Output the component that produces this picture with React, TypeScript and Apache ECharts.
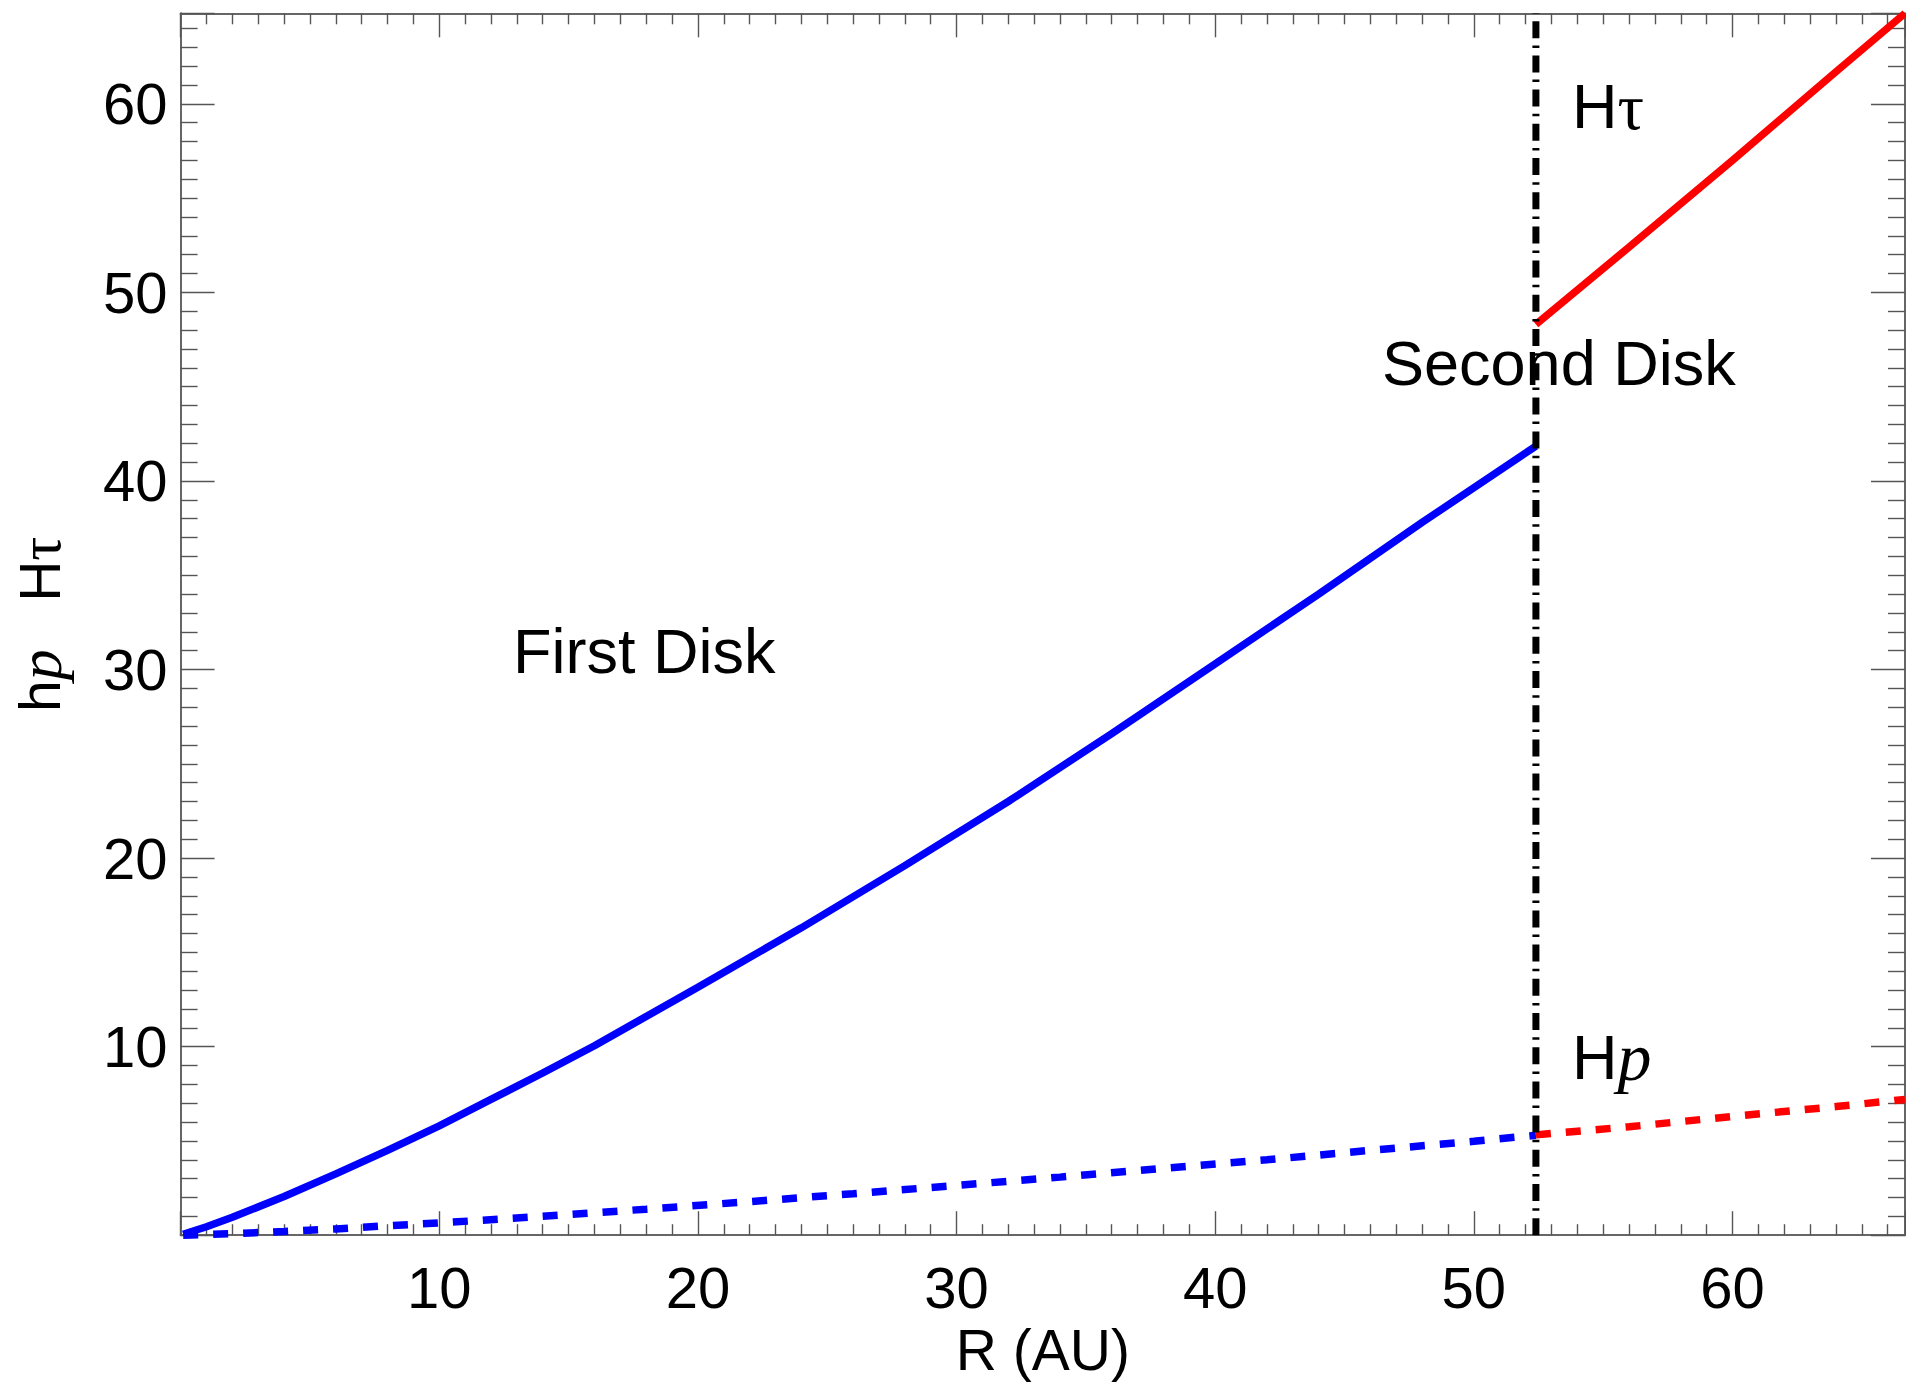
import React, { useEffect, useRef } from "react";
import * as echarts from "echarts";

// ---- data ----
const rTauFirst = [0.1, 1, 2, 4, 6, 8, 10, 12, 14, 16, 18, 20, 24, 28, 32, 36, 40, 44, 48, 52.4];
const hTauFirst = [0.05, 0.45, 0.95, 2.05, 3.25, 4.5, 5.8, 7.2, 8.6, 10.05, 11.6, 13.15, 16.3, 19.6, 23.0, 26.6, 30.3, 34.0, 37.8, 41.85];

const rPFirst = [0.1, 2, 4, 6, 8, 10, 14, 18, 22, 26, 30, 34, 38, 42, 46, 50, 52.4];
const hPFirst = [0.0, 0.08, 0.2, 0.33, 0.5, 0.65, 1.0, 1.38, 1.78, 2.2, 2.64, 3.08, 3.54, 4.0, 4.5, 4.98, 5.3];

const rTauSecond = [52.4, 56, 60, 64, 66.67];
const hTauSecond = [48.3, 52.4, 57.0, 61.7, 64.8];

const rPSecond = [52.4, 56, 60, 64, 66.67];
const hPSecond = [5.32, 5.75, 6.3, 6.82, 7.2];

const rBoundary = 52.4;
const xMin = 0;
const xMax = 66.67;
const yMin = 0;
const yMax = 64.8;
const tickInterval = 10;

const pairs = (xs: number[], ys: number[]) => xs.map((x, i) => [x, ys[i]]);

const SANS = "Liberation Sans, Arial, Helvetica, sans-serif";
const SERIF = "Liberation Serif, Times New Roman, serif";

export default function App() {
  const ref = useRef<HTMLDivElement>(null);

  useEffect(() => {
    if (!ref.current) return;
    const chart = echarts.init(ref.current, undefined, { renderer: "svg" });

    const axisLine = { show: true, onZero: false, lineStyle: { color: "#666", width: 2 } };
    const tickStyle = { color: "#555", width: 1.4 };

    const xCommon = {
      type: "value" as const,
      min: xMin,
      max: xMax,
      interval: tickInterval,
      axisLine,
      splitLine: { show: false },
      minorSplitLine: { show: false },
      axisTick: { show: true, inside: true, length: 24, lineStyle: tickStyle },
      minorTick: { show: true, splitNumber: 10, length: 11, lineStyle: tickStyle },
    };
    const yCommon = {
      type: "value" as const,
      min: yMin,
      max: yMax,
      interval: tickInterval,
      axisLine,
      splitLine: { show: false },
      minorSplitLine: { show: false },
      axisTick: { show: true, inside: true, length: 34, lineStyle: tickStyle },
      minorTick: { show: true, splitNumber: 10, length: 17, lineStyle: tickStyle },
    };

    const labelFont = { fontFamily: SANS, fontSize: 58, lineHeight: 58, color: "#000" };

    const lineSeries = (name: string, xs: number[], ys: number[], color: string, type: any) => ({
      type: "line",
      name,
      data: pairs(xs, ys),
      symbol: "none",
      showSymbol: false,
      smooth: false,
      lineStyle: { color, width: 7.5, type },
      z: 3,
    });

    chart.setOption({
      animation: false,
      backgroundColor: "#fff",
      grid: { left: 180.6, right: 1, top: 13.3, bottom: 148.8, containLabel: false },
      xAxis: [
        {
          ...xCommon,
          position: "bottom",
          axisLabel: { ...labelFont, margin: 23, showMinLabel: false, showMaxLabel: false },
          name: "R (AU)",
          nameLocation: "middle",
          nameGap: 85,
          nameTextStyle: { fontFamily: SANS, fontSize: 57, lineHeight: 57, color: "#000" },
        },
        { ...xCommon, position: "top", axisLabel: { show: false } },
      ],
      yAxis: [
        {
          ...yCommon,
          position: "left",
          axisLabel: { ...labelFont, margin: 13, showMinLabel: false, showMaxLabel: false },
          name: "{a|h}{b|p}{a|   H}{c|τ}",
          nameLocation: "middle",
          nameRotate: 90,
          nameGap: 110,
          nameTextStyle: {
            fontFamily: SANS,
            fontSize: 57,
            color: "#000",
            rich: {
              a: { fontFamily: SANS, fontSize: 57, color: "#000" },
              b: { fontFamily: SERIF, fontStyle: "italic", fontSize: 62, color: "#000" },
              c: { fontFamily: SERIF, fontSize: 60, color: "#000" },
            },
          },
        },
        { ...yCommon, position: "right", axisLabel: { show: false } },
      ],
      series: [
        lineSeries("Htau first", rTauFirst, hTauFirst, "#0000ff", "solid"),
        lineSeries("Hp first", rPFirst, hPFirst, "#0000ff", [15, 15]),
        lineSeries("Htau second", rTauSecond, hTauSecond, "#ff0000", "solid"),
        lineSeries("Hp second", rPSecond, hPSecond, "#ff0000", [15, 15]),
        {
          type: "line",
          name: "boundary",
          data: [
            [rBoundary, yMin],
            [rBoundary, yMax],
          ],
          symbol: "none",
          lineStyle: { color: "#000", width: 7, type: [17, 7.5, 2.5, 7.2] },
          z: 4,
        },
      ],
      graphic: [
        {
          type: "text",
          x: 513,
          y: 651,
          style: { text: "First Disk", fontFamily: SANS, fontSize: 63, fill: "#000", verticalAlign: "middle", align: "left" },
        },
        {
          type: "text",
          x: 1382,
          y: 363,
          style: { text: "Second Disk", fontFamily: SANS, fontSize: 63, fill: "#000", verticalAlign: "middle", align: "left" },
        },
        {
          type: "text",
          x: 1572,
          y: 106,
          style: {
            text: "{a|H}{c|τ}",
            fontFamily: SANS,
            fontSize: 63,
            fill: "#000",
            verticalAlign: "middle",
            align: "left",
            rich: {
              a: { fontFamily: SANS, fontSize: 63, fill: "#000" },
              c: { fontFamily: SERIF, fontSize: 66, fill: "#000" },
            },
          },
        },
        {
          type: "text",
          x: 1572,
          y: 1057,
          style: {
            text: "{a|H}{b|p}",
            fontFamily: SANS,
            fontSize: 63,
            fill: "#000",
            verticalAlign: "middle",
            align: "left",
            rich: {
              a: { fontFamily: SANS, fontSize: 63, fill: "#000" },
              b: { fontFamily: SERIF, fontStyle: "italic", fontSize: 68, fill: "#000" },
            },
          },
        },
      ],
    });

    return () => chart.dispose();
  }, []);

  return (
    <div
      ref={ref}
      style={{ position: "absolute", left: 0, top: 0, width: 1906, height: 1384, background: "#fff" }}
    />
  );
}
